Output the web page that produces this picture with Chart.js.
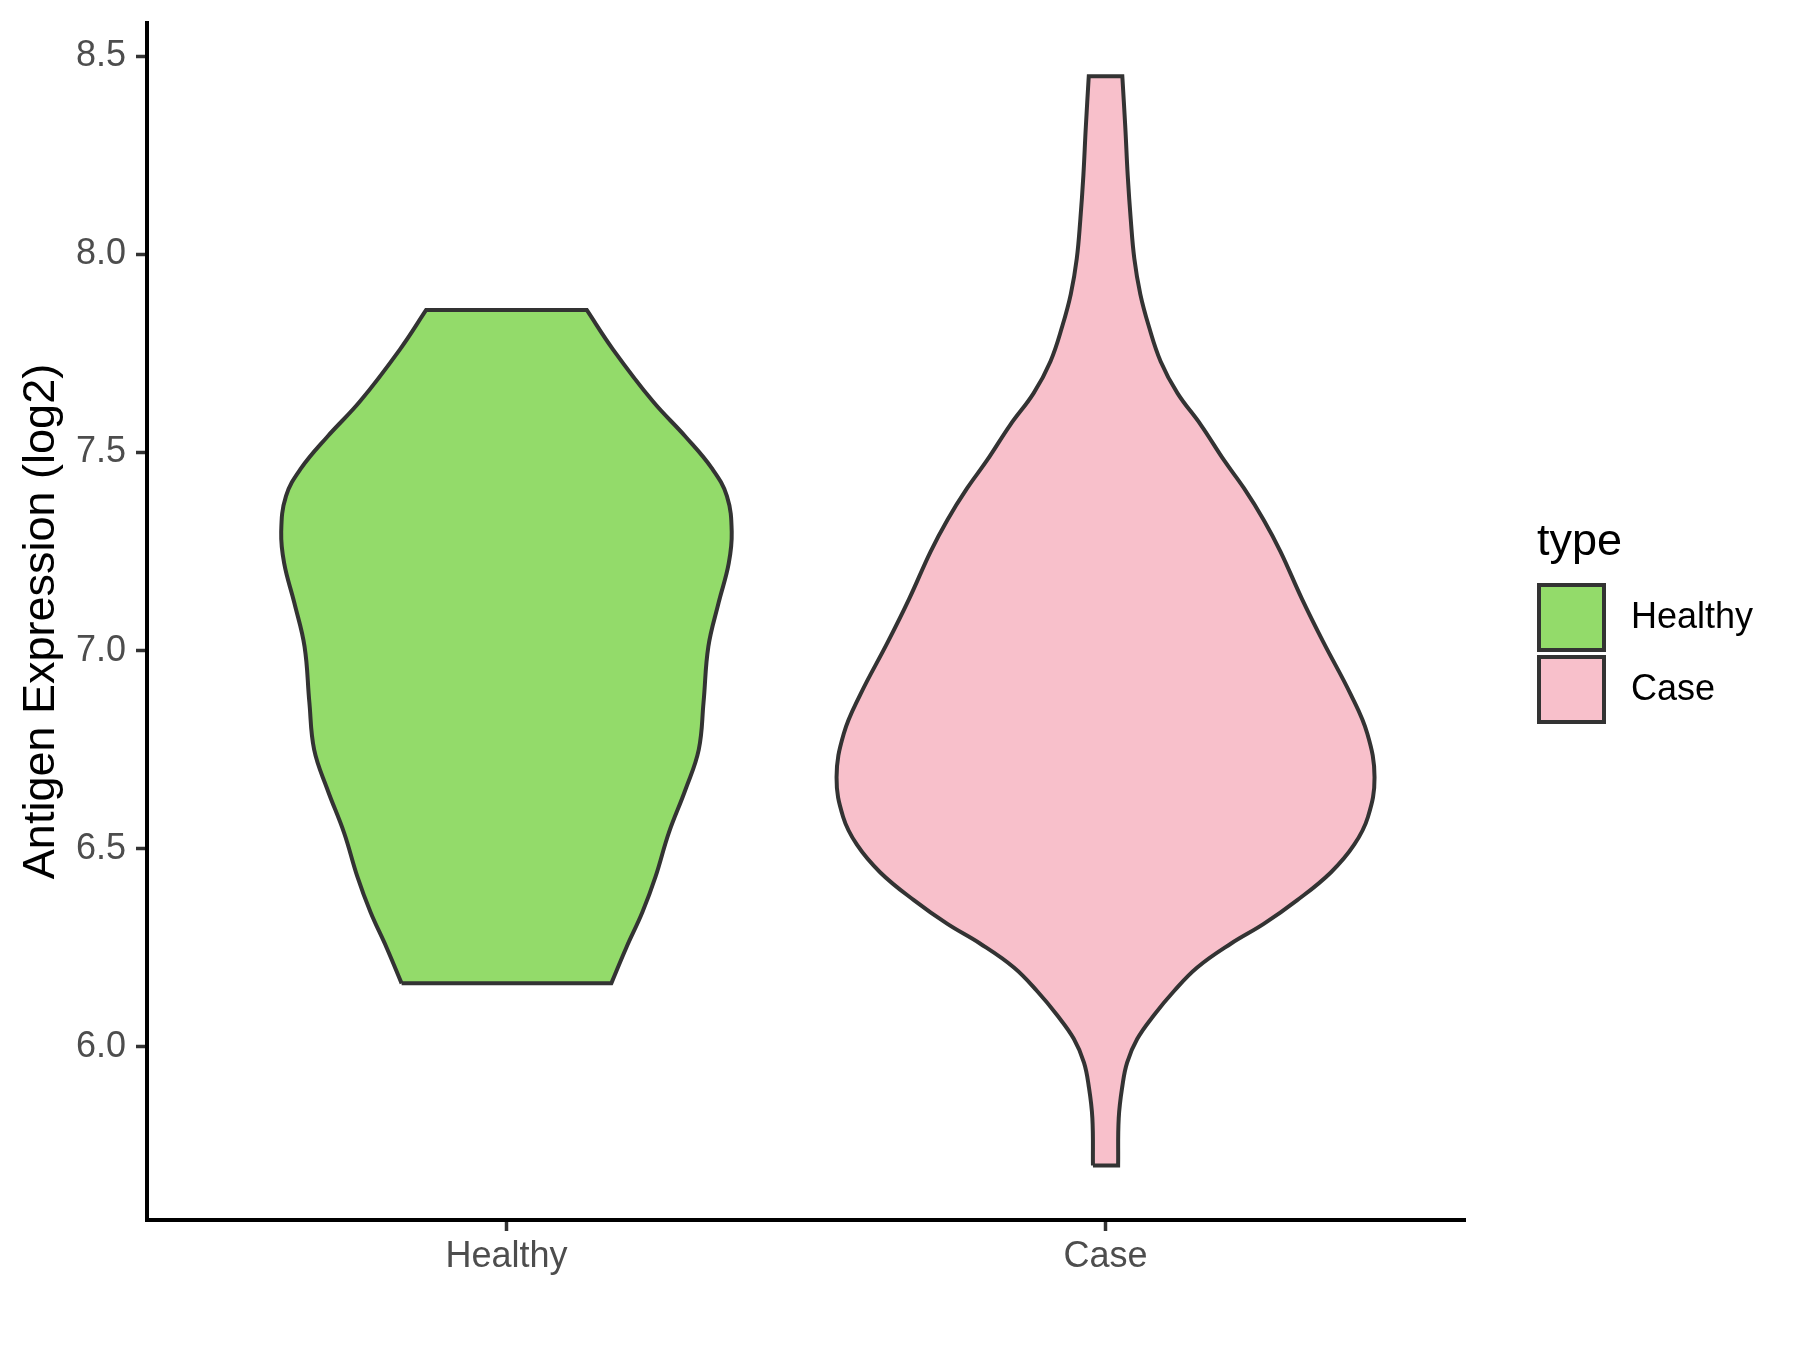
<!DOCTYPE html>
<html>
<head>
<meta charset="utf-8">
<script src="https://cdn.jsdelivr.net/npm/chart.js@4.4.0/dist/chart.umd.min.js"></script>
<style>
  html, body { margin: 0; padding: 0; background: #ffffff; }
</style>
</head>
<body>
<canvas id="violinChart" width="1800" height="1350"></canvas>
<script>
// categories and tick values
const categories = ["Healthy", "Case"];
const yTicks = [6.0, 6.5, 7.0, 7.5, 8.0, 8.5];

// violin outlines: expression value and half width (in category units)
const healthyValues = [6.16, 6.25, 6.34, 6.43, 6.54, 6.65, 6.75, 6.87, 7.01, 7.12, 7.22, 7.30, 7.39, 7.46, 7.54, 7.63, 7.76, 7.86];
const healthyWidths = [0.175, 0.200, 0.227, 0.249, 0.271, 0.299, 0.321, 0.329, 0.337, 0.354, 0.371, 0.376, 0.368, 0.343, 0.299, 0.244, 0.178, 0.134];

const caseValues = [5.70, 5.82, 5.90, 5.96, 6.02, 6.08, 6.14, 6.20, 6.26, 6.31, 6.37, 6.44, 6.51, 6.58, 6.68, 6.79, 6.89, 7.02, 7.13, 7.25, 7.33, 7.41, 7.48, 7.57, 7.65, 7.73, 7.82, 7.90, 7.99, 8.09, 8.20, 8.32, 8.45];
const caseWidths = [0.021, 0.022, 0.028, 0.036, 0.053, 0.081, 0.114, 0.153, 0.209, 0.264, 0.320, 0.376, 0.415, 0.438, 0.449, 0.437, 0.409, 0.364, 0.328, 0.292, 0.264, 0.231, 0.198, 0.159, 0.120, 0.092, 0.072, 0.058, 0.048, 0.042, 0.037, 0.033, 0.028];

const fontFamily = "'Liberation Sans', Arial, sans-serif";

// build a closed outline: up the left side, across the top, down the right side, back along the bottom
// corner points are doubled so the flat caps stay straight
function outline(center, values, widths) {
  const n = values.length;
  const pts = [];
  const left = (i) => ({ x: center - widths[i], y: values[i] });
  const right = (i) => ({ x: center + widths[i], y: values[i] });
  pts.push(left(0));
  for (let i = 0; i < n; i++) pts.push(left(i));
  pts.push(left(n - 1));
  pts.push(right(n - 1));
  for (let i = n - 1; i >= 0; i--) pts.push(right(i));
  pts.push(right(0));
  pts.push(left(0));
  return pts;
}

// legend drawn to the right of the plot, like the ggplot guide
const typeLegend = {
  id: "typeLegend",
  afterDraw(chart) {
    const ctx = chart.ctx;
    const x0 = chart.chartArea.right + 72;
    ctx.save();
    ctx.fillStyle = "#000000";
    ctx.font = "45px " + fontFamily;
    ctx.textBaseline = "alphabetic";
    ctx.fillText("type", x0, 555);
    chart.data.datasets.forEach((ds, i) => {
      const top = 583 + i * 72;
      ctx.fillStyle = ds.backgroundColor;
      ctx.fillRect(x0 + 1, top + 1, 67, 67);
      ctx.strokeStyle = ds.borderColor;
      ctx.lineWidth = 4;
      ctx.strokeRect(x0 + 2, top + 2, 65, 65);
      ctx.fillStyle = "#000000";
      ctx.font = "36px " + fontFamily;
      ctx.textBaseline = "middle";
      ctx.fillText(ds.label, x0 + 94, top + 35);
    });
    ctx.restore();
  },
};

const ctx = document.getElementById("violinChart");

new Chart(ctx, {
  type: "line",
  data: {
    datasets: [
      {
        label: categories[0],
        data: outline(1, healthyValues, healthyWidths),
        backgroundColor: "#93DB6A",
        borderColor: "#333333",
        borderWidth: 4,
        fill: "shape",
      },
      {
        label: categories[1],
        data: outline(2, caseValues, caseWidths),
        backgroundColor: "#F8C0CB",
        borderColor: "#333333",
        borderWidth: 4,
        fill: "shape",
      },
    ],
  },
  options: {
    responsive: false,
    animation: false,
    indexAxis: "y",
    layout: { padding: { top: 23, right: 335, bottom: 0, left: 0 } },
    elements: {
      point: { radius: 0, hoverRadius: 0 },
      line: { tension: 0.4 },
    },
    plugins: {
      legend: { display: false },
      tooltip: { enabled: false },
    },
    scales: {
      x: {
        type: "linear",
        min: 0.4,
        max: 2.6,
        afterBuildTicks: (scale) => {
          scale.ticks = categories.map((c, i) => ({ value: i + 1 }));
        },
        afterFit: (scale) => {
          scale.height = 130;
          scale.paddingLeft = 0;
          scale.paddingRight = 0;
        },
        grid: {
          drawOnChartArea: false,
          tickLength: 11,
          tickWidth: 3.5,
          tickColor: "#333333",
        },
        border: { color: "#000000", width: 4 },
        ticks: {
          autoSkip: false,
          maxRotation: 0,
          padding: 4,
          color: "#4D4D4D",
          font: { size: 36, family: fontFamily },
          callback: (value) => categories[Math.round(value) - 1],
        },
      },
      y: {
        type: "linear",
        min: 5.5626,
        max: 8.5844,
        afterBuildTicks: (scale) => {
          scale.ticks = yTicks.map((v) => ({ value: v }));
        },
        afterFit: (scale) => {
          scale.width = 147;
          scale.paddingTop = 0;
          scale.paddingBottom = 0;
        },
        grid: {
          drawOnChartArea: false,
          tickLength: 11,
          tickWidth: 3.5,
          tickColor: "#333333",
        },
        border: { color: "#000000", width: 4 },
        ticks: {
          autoSkip: false,
          padding: 10,
          color: "#4D4D4D",
          font: { size: 36, family: fontFamily },
          callback: (value) => value.toFixed(1),
        },
        title: {
          display: true,
          text: "Antigen Expression (log2)",
          color: "#000000",
          font: { size: 45, family: fontFamily },
          padding: { top: 15, bottom: 0 },
        },
      },
    },
  },
  plugins: [typeLegend],
});
</script>
</body>
</html>
